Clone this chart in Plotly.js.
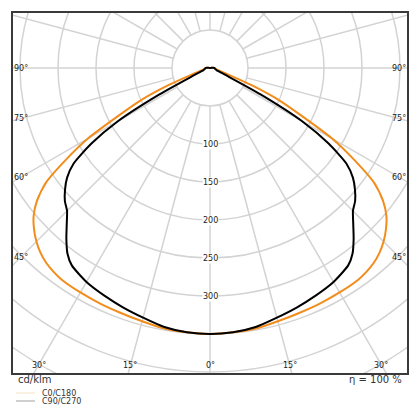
<!DOCTYPE html>
<html>
<head>
<meta charset="utf-8">
<script src="https://cdn.plot.ly/plotly-3.0.1.min.js"></script>
<style>html,body{margin:0;padding:0;background:#fff;}#chart{width:420px;height:420px;}</style>
</head>
<body>
<div id="chart"></div>
<script>
// Gamma angles (deg, 0 = straight down) and luminous intensity (cd/klm)
const gamma = [0,5,10,15,20,25,30,35,37.5,40,42.5,45,47.5,50,52.5,55,57.5,60,62.5,65,67.5,70,72.5,75,80,85,90,95,100,180];
const c0c180 = [350,349,348,345,343,342,341,340,338,335,330,323,314,303,287,264,225,185,135,100,60,28,15,10,8,7,6,4,2,0];
const c90c270 = [350,349,346,340,335,330,325,317,308,294,279,266,259,249,237,219,185,140,75,28,15,11,9,8,7,6,6,4,2,0];
const seriesNames = ['C0/C180','C90/C270'];
const ringValues = [50,100,150,200,250,300,350,400,450,500,550];
const ringLabels = [100,150,200,250,300];
const spokeAngles = [0,15,30,45,60,75,90,105,120,135,150,165,180,195,210,225,240,255,270,285,300,315,330,345];
const angleLabels = [0,15,30,45,60,75,90];

const XMAX = 259.2, YMIN = -401.3, YMAX = 72.4;
const rad = d => d*Math.PI/180;

function curve(vals){
  const x=[], y=[];
  for(let i=gamma.length-1;i>=0;i--){ x.push(vals[i]*Math.sin(rad(gamma[i]))); y.push(-vals[i]*Math.cos(rad(gamma[i]))); }
  for(let i=1;i<gamma.length;i++){ x.push(-vals[i]*Math.sin(rad(gamma[i]))); y.push(-vals[i]*Math.cos(rad(gamma[i]))); }
  return {x,y};
}

const cA = curve(c0c180), cB = curve(c90c270);
const traces = [
  {x:cA.x, y:cA.y, mode:'lines', name:seriesNames[0], line:{color:'#f28c1c', width:2, shape:'spline', smoothing:0.6}, showlegend:false, hoverinfo:'skip'},
  {x:cB.x, y:cB.y, mode:'lines', name:seriesNames[1], line:{color:'#000000', width:2, shape:'spline', smoothing:0.6}, showlegend:false, hoverinfo:'skip'}
];

const gridColor = '#d3d3d3';
const shapes = [];
ringValues.forEach(r=>{
  shapes.push({type:'circle', xref:'x', yref:'y', x0:-r, x1:r, y0:-r, y1:r, line:{color:gridColor, width:1.5}, layer:'below'});
});
spokeAngles.forEach(a=>{
  shapes.push({type:'line', xref:'x', yref:'y',
    x0:50*Math.sin(rad(a)), y0:-50*Math.cos(rad(a)),
    x1:700*Math.sin(rad(a)), y1:-700*Math.cos(rad(a)),
    line:{color:gridColor, width:1.5}, layer:'below'});
});
// legend lines (paper coords)
shapes.push({type:'line', xref:'paper', yref:'paper', x0:0.0076, x1:0.0558, y0:-0.0556, y1:-0.0556, line:{color:'#f6e2bf', width:1}});
shapes.push({type:'line', xref:'paper', yref:'paper', x0:0.0076, x1:0.0558, y0:-0.0778, y1:-0.0778, line:{color:'#a0a0a0', width:1}});

const annotations = [];
const fontSmall = {family:'DejaVu Sans', size:8, color:'#222'};
// radial labels
ringLabels.forEach(r=>{
  annotations.push({x:0, y:-r, xref:'x', yref:'y', text:String(r), showarrow:false, font:fontSmall, bgcolor:'#ffffff', borderpad:0, xanchor:'center', yanchor:'middle'});
});
// angle labels at the inset frame
const inX = XMAX - 10.5, inY = YMIN + 10.5;
angleLabels.forEach(a=>{
  const s = Math.sin(rad(a)), c = Math.cos(rad(a));
  let r;
  if (c > 0 && (s === 0 || (-inY)/c * s <= inX)) r = (-inY)/c; else r = inX/s;
  [1,-1].forEach(side=>{
    if (a===0 && side===-1) return;
    annotations.push({x:side*r*s, y:-r*c, xref:'x', yref:'y', text:a+'°', showarrow:false, font:fontSmall, xanchor:'center', yanchor:'middle'});
  });
});
annotations.push({x:0.0076, y:-0.0175, xref:'paper', yref:'paper', text:'cd/klm', showarrow:false, xanchor:'left', yanchor:'middle', font:{family:'DejaVu Sans', size:10, color:'#333'}});
annotations.push({x:0.992, y:-0.0175, xref:'paper', yref:'paper', text:'η = 100 %', showarrow:false, xanchor:'right', yanchor:'middle', font:{family:'DejaVu Sans', size:10, color:'#333'}});
annotations.push({x:0.0685, y:-0.0556, xref:'paper', yref:'paper', text:seriesNames[0], showarrow:false, xanchor:'left', yanchor:'middle', font:{family:'DejaVu Sans', size:8, color:'#333'}});
annotations.push({x:0.0685, y:-0.0778, xref:'paper', yref:'paper', text:seriesNames[1], showarrow:false, xanchor:'left', yanchor:'middle', font:{family:'DejaVu Sans', size:8, color:'#333'}});

const axisCommon = {showgrid:false, zeroline:false, showticklabels:false, ticks:'', showline:true, mirror:true, linecolor:'#3a3a3a', linewidth:2, fixedrange:true};
const layout = {
  width:420, height:420,
  margin:{l:13, r:13, t:13, b:47, pad:0},
  paper_bgcolor:'#ffffff', plot_bgcolor:'#ffffff',
  xaxis:Object.assign({range:[-XMAX, XMAX]}, axisCommon),
  yaxis:Object.assign({range:[YMIN, YMAX]}, axisCommon),
  shapes:shapes, annotations:annotations, showlegend:false
};
Plotly.newPlot('chart', traces, layout, {staticPlot:true, displayModeBar:false});
</script>
</body>
</html>
